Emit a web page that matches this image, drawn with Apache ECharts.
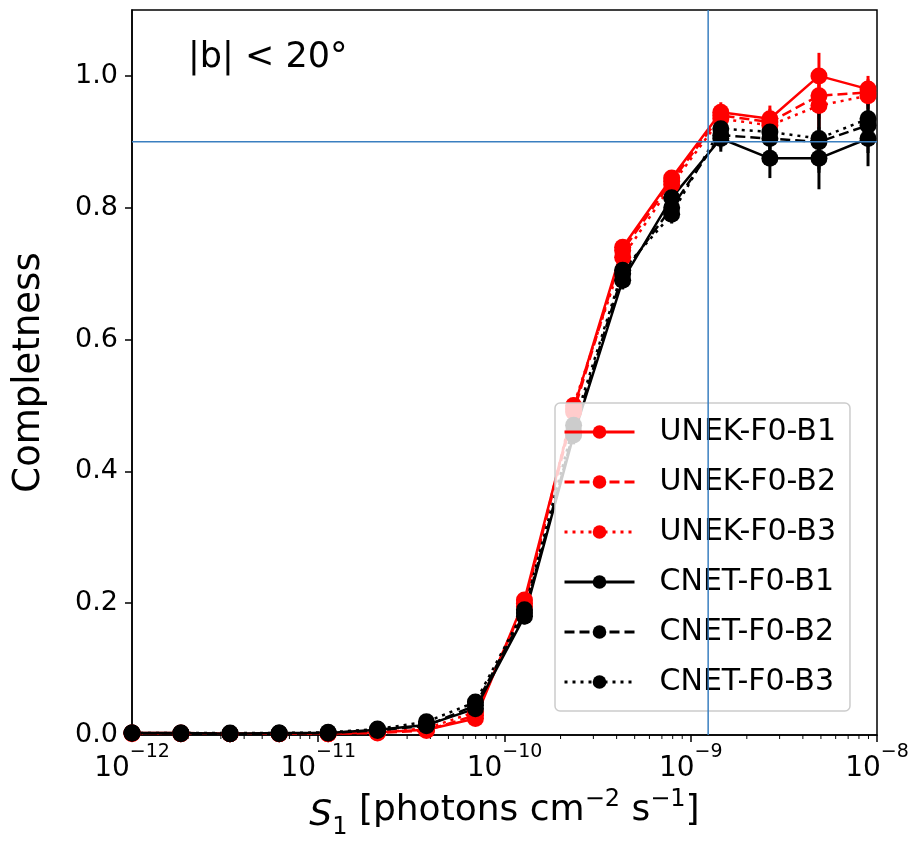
<!DOCTYPE html>
<html>
<head>
<meta charset="utf-8">
<script src="https://cdn.jsdelivr.net/npm/echarts@6/dist/echarts.min.js"></script>
<style>
  html, body { margin: 0; padding: 0; background: #fff; }
  #chart { width: 919px; height: 854px; }
</style>
</head>
<body>
<div id="chart"></div>
<script>
// flux bins (photons cm^-2 s^-1)
const fluxBins = [1.0e-12, 1.83e-12, 3.36e-12, 6.17e-12, 1.13e-11, 2.08e-11, 3.81e-11, 6.98e-11,
  1.28e-10, 2.35e-10, 4.31e-10, 7.9e-10, 1.45e-9, 2.66e-9, 4.88e-9, 8.95e-9];

const unekB1 = [0.003, 0.003, 0.002, 0.002, 0.002, 0.004, 0.008, 0.025, 0.205, 0.495, 0.74, 0.845, 0.945, 0.935, 1.0, 0.98];
const unekB2 = [0.003, 0.002, 0.002, 0.002, 0.002, 0.003, 0.007, 0.03, 0.2, 0.49, 0.735, 0.84, 0.94, 0.93, 0.97, 0.975];
const unekB3 = [0.002, 0.002, 0.002, 0.002, 0.002, 0.004, 0.01, 0.035, 0.195, 0.5, 0.725, 0.835, 0.935, 0.925, 0.955, 0.97];
const cnetB1 = [0.003, 0.003, 0.002, 0.003, 0.003, 0.008, 0.015, 0.04, 0.18, 0.455, 0.69, 0.815, 0.905, 0.875, 0.875, 0.905];
const cnetB2 = [0.003, 0.002, 0.002, 0.002, 0.003, 0.007, 0.014, 0.045, 0.185, 0.46, 0.7, 0.8, 0.91, 0.905, 0.9, 0.925];
const cnetB3 = [0.003, 0.003, 0.003, 0.003, 0.004, 0.009, 0.02, 0.05, 0.19, 0.47, 0.705, 0.79, 0.92, 0.915, 0.905, 0.935];

// error bar half-lengths
const unekErr = [0.002, 0.002, 0.002, 0.002, 0.002, 0.002, 0.004, 0.006, 0.01, 0.012, 0.012, 0.012, 0.015, 0.02, 0.035, 0.02];
const cnetErr = [0.002, 0.002, 0.002, 0.002, 0.002, 0.003, 0.005, 0.008, 0.012, 0.014, 0.014, 0.014, 0.02, 0.03, 0.047, 0.042];

const yTicks = [0, 0.2, 0.4, 0.6, 0.8, 1.0];
const xTicks = [1e-12, 1e-11, 1e-10, 1e-9, 1e-8];
const xMinorTicks = [];
for (let e = -12; e < -8; e++) {
  for (let m = 2; m <= 9; m++) xMinorTicks.push(m * Math.pow(10, e));
}
const thresholdFlux = 1.24e-9;
const completenessLevel = 0.9;

const lines = [
  { name: "UNEK-F0-B1", values: unekB1, err: unekErr, color: "#ff0000", dash: "solid" },
  { name: "UNEK-F0-B2", values: unekB2, err: unekErr, color: "#ff0000", dash: [10, 5] },
  { name: "UNEK-F0-B3", values: unekB3, err: unekErr, color: "#ff0000", dash: [3, 5] },
  { name: "CNET-F0-B1", values: cnetB1, err: cnetErr, color: "#000000", dash: "solid" },
  { name: "CNET-F0-B2", values: cnetB2, err: cnetErr, color: "#000000", dash: [10, 5] },
  { name: "CNET-F0-B3", values: cnetB3, err: cnetErr, color: "#000000", dash: [3, 5] },
];

const series = [];
lines.forEach(function (l) {
  series.push({
    type: "custom",
    silent: true,
    clip: false,
    data: fluxBins.map((x, i) => [x, l.values[i], l.err[i]]),
    renderItem: function (params, api) {
      var top = api.coord([api.value(0), api.value(1) + api.value(2)]);
      var bot = api.coord([api.value(0), api.value(1) - api.value(2)]);
      return {
        type: "line",
        shape: { x1: top[0], y1: top[1], x2: bot[0], y2: bot[1] },
        style: { stroke: l.color, lineWidth: 3 },
      };
    },
  });
  series.push({
    name: l.name,
    type: "line",
    data: fluxBins.map((x, i) => [x, l.values[i]]),
    symbol: "circle",
    symbolSize: 17,
    showAllSymbol: true,
    lineStyle: { color: l.color, width: 2.5, type: l.dash },
    itemStyle: { color: l.color },
  });
});

// minor ticks on the log axis
series.push({
  type: "custom",
  silent: true,
  clip: false,
  data: xMinorTicks.map((v) => [v, 0]),
  renderItem: function (params, api) {
    var p = api.coord([api.value(0), 0]);
    return {
      type: "line",
      shape: { x1: p[0], y1: p[1], x2: p[0], y2: p[1] + 4 },
      style: { stroke: "#000", lineWidth: 1 },
    };
  },
});

// reference lines
const refStyle = { color: "#3a7fc0", width: 1.5, type: "solid" };
series.push({
  type: "line",
  silent: true,
  z: 10,
  symbol: "none",
  lineStyle: refStyle,
  data: [[thresholdFlux, 0], [thresholdFlux, 1.1]],
});
series.push({
  type: "line",
  silent: true,
  z: 10,
  symbol: "none",
  lineStyle: refStyle,
  data: [[1e-12, completenessLevel], [1e-8, completenessLevel]],
});

const chart = echarts.init(document.getElementById("chart"));
chart.setOption({
  animation: false,
  backgroundColor: "#fff",
  grid: {
    left: 132, right: 42, top: 10, bottom: 119,
    show: true, borderColor: "#000", borderWidth: 1.5,
  },
  graphic: [
    {
      type: "text",
      left: 188,
      top: 40,
      style: { text: "|b| < 20°", font: "35px 'DejaVu Sans'", fill: "#000" },
    },
  ],
  legend: {
    data: lines.map((l) => l.name),
    orient: "vertical",
    left: 555,
    top: 403,
    itemWidth: 70,
    itemHeight: 17,
    itemGap: 16,
    padding: [12, 14, 12, 8],
    backgroundColor: "rgba(255,255,255,0.8)",
    borderColor: "#cccccc",
    borderWidth: 1.5,
    borderRadius: 5,
    lineStyle: { width: 3 },
    textStyle: {
      fontFamily: "DejaVu Sans", fontSize: 30, color: "#000",
      lineHeight: 34, padding: [0, 0, 0, 20],
    },
  },
  xAxis: {
    type: "log",
    logBase: 10,
    min: 1e-12,
    max: 1e-8,
    name: "{i|S}{sub|1} [photons cm{sup|−2} s{sup|−1}]",
    nameLocation: "middle",
    nameGap: 42,
    nameTextStyle: {
      fontFamily: "DejaVu Sans", fontSize: 36, color: "#000",
      rich: {
        i: { fontFamily: "DejaVu Sans", fontStyle: "italic", fontSize: 36, lineHeight: 46, verticalAlign: "bottom" },
        sub: { fontFamily: "DejaVu Sans", fontSize: 24, lineHeight: 46, verticalAlign: "bottom", padding: [0, 0, -6, 0] },
        sup: { fontFamily: "DejaVu Sans", fontSize: 24, lineHeight: 46, verticalAlign: "top" },
      },
    },
    axisLine: { lineStyle: { color: "#000", width: 1.5 } },
    axisTick: { length: 7, lineStyle: { color: "#000", width: 1.5 }, customValues: xTicks },
    splitLine: { show: false },
    minorTick: { show: false },
    axisLabel: {
      customValues: xTicks,
      margin: 8,
      formatter: function (v) {
        var e = Math.round(Math.log10(v));
        return "{b|10}{e|" + (e < 0 ? "−" + (-e) : e) + "}";
      },
      rich: {
        b: { fontFamily: "DejaVu Sans", fontSize: 28, color: "#000", lineHeight: 40, verticalAlign: "bottom" },
        e: { fontFamily: "DejaVu Sans", fontSize: 19, color: "#000", lineHeight: 40, verticalAlign: "top" },
      },
    },
  },
  yAxis: {
    type: "value",
    min: 0,
    max: 1.1,
    name: "Completness",
    nameLocation: "middle",
    nameGap: 84,
    nameTextStyle: { fontFamily: "DejaVu Sans", fontSize: 37, color: "#000" },
    axisLine: { show: true, lineStyle: { color: "#000", width: 1.5 } },
    axisTick: { show: true, length: 7, lineStyle: { color: "#000", width: 1.5 }, customValues: yTicks },
    splitLine: { show: false },
    axisLabel: {
      customValues: yTicks,
      margin: 14,
      fontFamily: "DejaVu Sans",
      fontSize: 27,
      color: "#000",
      formatter: (v) => v.toFixed(1),
    },
  },
  series: series,
});
</script>
</body>
</html>
